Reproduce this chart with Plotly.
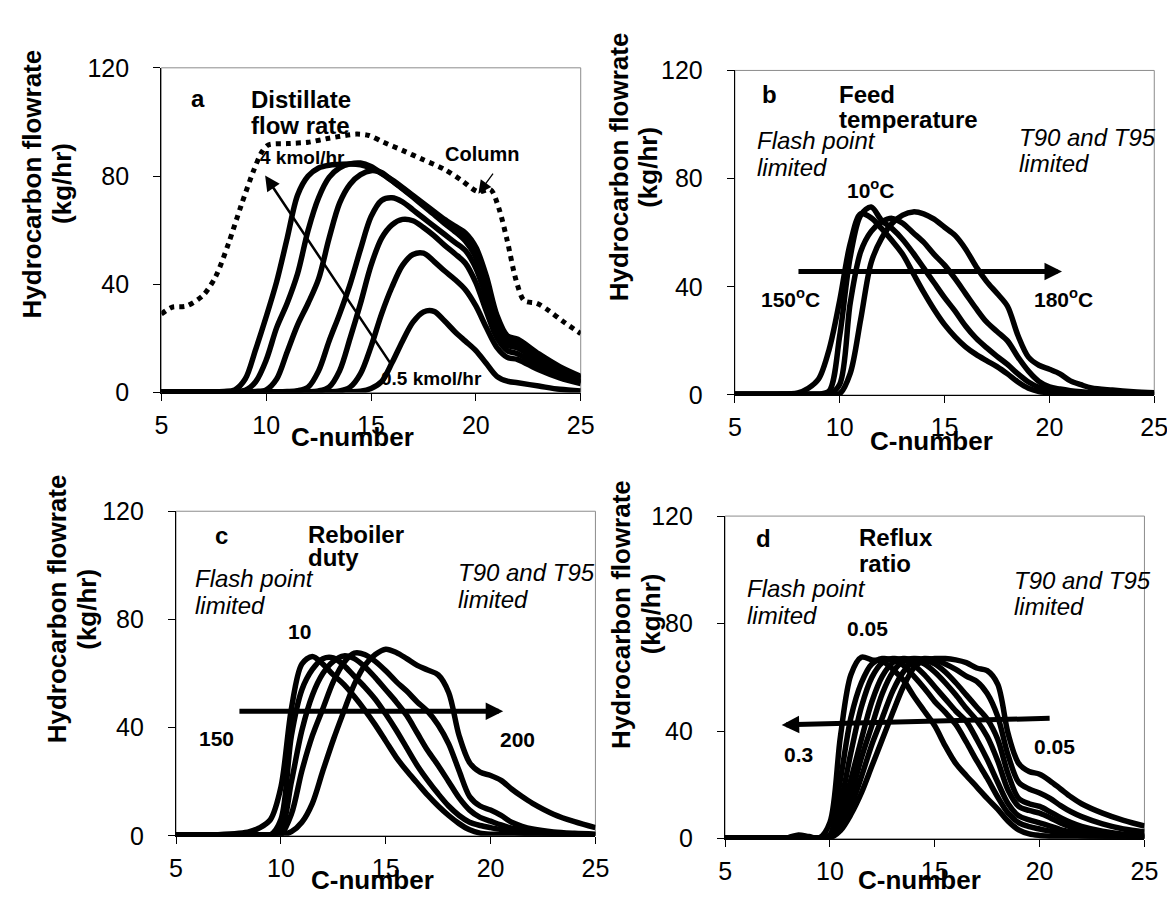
import plotly.graph_objects as go

W, H = 1175, 897

# ---------------- data ----------------
C = [5, 6, 7, 8, 8.5, 9, 9.5, 10, 10.5, 11, 11.5, 12, 12.5, 13, 13.5, 14, 14.5, 15, 15.5, 16,
     16.5, 17, 17.5, 18, 18.5, 19, 19.5, 20, 20.5, 21, 21.5, 22, 23, 24, 25]
X_TICKS = [5, 10, 15, 20, 25]
Y_TICKS = [0, 40, 80, 120]

# (a) distillate flow rate 4 ... 0.5 kmol/hr
a_4 = [0.3, 0.3, 0.3, 0.4, 1.0, 5, 16, 28, 41, 57, 73, 80, 83, 84, 84.3, 84.5, 84.2, 83, 81, 78.6,
       75.8, 72.8, 69.9, 66.9, 64, 61.5, 59, 53.7, 43, 28.7, 21, 19.7, 14.3, 9.6, 6]
a_3 = [0.3, 0.3, 0.3, 0.3, 0.4, 0.8, 4, 12, 24, 33, 44, 60, 72, 79.5, 83, 84.5, 84.8, 83.5, 81, 78.3,
       75.5, 72.5, 69.5, 66.5, 63.5, 61, 58, 52, 41.5, 27.5, 20, 18.6, 13.5, 8.9, 5.5]
a_25 = [0.3, 0.3, 0.3, 0.3, 0.3, 0.3, 0.4, 1, 5, 15, 25, 33, 42, 57, 70, 77, 80.5, 82, 81.3, 78.3,
        75.3, 72.2, 69, 65.8, 62.5, 59.5, 56, 50, 40, 26.5, 19, 17.6, 12.8, 8.3, 5]
a_2 = [0.3, 0.3, 0.3, 0.3, 0.3, 0.3, 0.3, 0.3, 0.3, 0.4, 0.7, 2, 8, 19, 29, 40, 53, 65, 71, 72,
       70.5, 67.5, 64.5, 61.5, 58.5, 55.5, 52.5, 46, 35, 23, 17.5, 16.5, 11.5, 7, 4]
a_15 = [0.3, 0.3, 0.3, 0.3, 0.3, 0.3, 0.3, 0.3, 0.3, 0.3, 0.3, 0.3, 0.6, 2, 8, 20, 33, 47, 57, 62,
        64, 63.5, 61, 58, 54.5, 51.3, 47.8, 40.6, 30, 20.3, 15.5, 14.3, 10, 6.6, 4.2]
a_1 = [0.3, 0.3, 0.3, 0.3, 0.3, 0.3, 0.3, 0.3, 0.3, 0.3, 0.3, 0.3, 0.3, 0.3, 0.6, 2, 7, 17, 29, 39,
       47, 51, 51.5, 48.5, 45, 41.8, 38, 32, 24, 16.7, 13, 12.2, 8.4, 5.4, 3.3]
a_05 = [0.3, 0.3, 0.3, 0.3, 0.3, 0.3, 0.3, 0.3, 0.3, 0.3, 0.3, 0.3, 0.3, 0.3, 0.3, 0.3, 0.5, 1.5, 4, 11,
        19, 26, 29.8, 30, 26.5, 22.5, 19, 15.5, 10.7, 6, 4.2, 3.6, 2.4, 1.2, 0.6]
col_C = [5.0, 5.5, 6.2, 7.0, 7.6, 8.2, 8.8, 9.4, 9.8, 10.1, 11, 12, 13, 14.3, 14.9, 15.6, 16.5, 17.5,
         18.5, 19.3, 20.1, 20.7, 21.1, 21.5, 21.9, 22.3, 22.9, 23.4, 24.1, 25]
col_v = [29, 31.5, 32, 36, 43, 55, 69, 82, 89, 91.5, 92, 92.5, 94, 95.5, 95, 92.5, 89.5, 86,
         82.5, 78.5, 74.2, 75, 68, 56, 42, 34, 33, 30.7, 26.6, 21.8]

# (b) feed temperature 150 ... 180 C
b_150 = [0.3, 0.3, 0.3, 0.8, 2.5, 6, 17, 35, 56, 67, 65.5, 61.5, 57, 52, 45, 38, 31.6, 26, 21.5, 17.8,
         15, 12.7, 10.5, 7.8, 4.8, 2.5, 1.3, 0.8, 0.6, 0.5, 0.4, 0.4, 0.3, 0.3, 0.2]
b_160 = [0.3, 0.3, 0.3, 0.3, 0.3, 0.3, 1.5, 22, 51, 66.5, 69.5, 64.5, 61.5, 57.5, 52.5, 47, 41.5, 36, 31, 25.5,
         21, 17.5, 14.3, 11.3, 7.8, 4.8, 2.8, 1.8, 1.3, 1, 0.8, 0.6, 0.4, 0.3, 0.2]
b_170 = [0.3, 0.3, 0.3, 0.3, 0.3, 0.3, 0.3, 4, 34, 53, 60.5, 64, 65.3, 63.5, 60, 56.5, 52, 48, 43, 37.5,
         32, 27, 23.5, 20, 14, 8.8, 5, 3, 2.2, 1.6, 1.2, 0.9, 0.6, 0.4, 0.3]
b_180 = [0.3, 0.3, 0.3, 0.3, 0.3, 0.3, 0.3, 0.5, 8, 28, 49, 58, 63.5, 66.5, 67.7, 67, 65, 62, 59, 54,
         47.5, 42, 37.6, 32.8, 22, 14, 11, 9.5, 7.8, 5.2, 3.8, 2.6, 1.8, 1.2, 0.8]

# (c) reboiler duty 150 ... 200
c_150 = [0.3, 0.3, 0.4, 0.9, 1.5, 3, 6, 18, 47, 63.5, 66.3, 63.5, 59.5, 56, 51.5, 46.5, 41, 35, 29, 24,
         19.5, 15, 11, 7.5, 4.5, 2.2, 1, 0.6, 0.5, 0.4, 0.4, 0.3, 0.3, 0.3, 0.3]
c_160 = [0.3, 0.3, 0.3, 0.3, 0.3, 0.3, 0.3, 6, 37, 54, 61.5, 65.5, 65.8, 63, 59, 55, 50.5, 45, 39, 32.5,
         26, 20.5, 15.5, 11, 7.5, 5, 3.8, 3, 2.3, 1.5, 1, 0.8, 0.5, 0.4, 0.3]
c_170 = [0.3, 0.3, 0.3, 0.3, 0.3, 0.3, 0.3, 2, 20, 39, 52, 60, 64.5, 66.5, 65.5, 62.5, 58.5, 54, 49.5, 44.5,
         38, 31.5, 26, 20, 14, 9.5, 6.8, 5.4, 4, 2.8, 2, 1.5, 0.9, 0.6, 0.4]
c_180 = [0.3, 0.3, 0.3, 0.3, 0.3, 0.3, 0.3, 0.5, 8, 24, 37, 47, 57, 64, 67.5, 67, 64.5, 61, 57, 53.5,
         49.5, 46, 41, 34, 24, 14.5, 11, 9.5, 7.5, 5, 3.5, 2.5, 1.4, 0.9, 0.6]
c_200 = [0.3, 0.3, 0.3, 0.3, 0.3, 0.3, 0.3, 0.3, 1.5, 5, 12, 24, 35.5, 46, 56, 63, 67, 69, 67.8, 65.5,
         63, 61.3, 59.5, 53, 37, 27, 23.5, 22.3, 20.5, 17.3, 14.5, 12, 8, 5.2, 3]

# (d) reflux ratio 0.3 ... 0.05
d_1 = [0.3, 0.3, 0.3, 0.4, 1.4, 0.8, 0.3, 6, 38, 61, 67.5, 66.5, 66, 63, 59, 53, 47.5, 42, 34.5, 28,
       23.5, 19.3, 15, 11, 6.5, 3.3, 1.8, 1.2, 0.9, 0.7, 0.5, 0.4, 0.3, 0.3, 0.3]
d_2 = [0.3, 0.3, 0.3, 0.3, 0.3, 0.3, 0.3, 1.5, 22, 45, 58, 65, 67, 66.5, 64.5, 60.5, 56, 51, 47, 42.5,
       36, 29, 22.5, 15.5, 9.5, 6, 4.5, 3.6, 2.8, 2, 1.5, 1.1, 0.7, 0.5, 0.4]
d_3 = [0.3, 0.3, 0.3, 0.3, 0.3, 0.3, 0.3, 1, 13, 32, 49, 60, 65.5, 67, 66.5, 64.5, 61, 56.5, 52, 47.5,
       43.7, 37, 29.5, 21, 13, 8.5, 7, 5.9, 4.7, 3.4, 2.5, 1.8, 1, 0.6, 0.5]
d_4 = [0.3, 0.3, 0.3, 0.3, 0.3, 0.3, 0.3, 0.6, 8, 22, 37, 51, 60.5, 65.5, 67, 66.5, 65, 62, 58, 53.5,
       48.5, 44, 38, 29, 18, 12, 10.5, 9.5, 7.8, 5.8, 4.3, 3.2, 1.8, 1.1, 0.7]
d_5 = [0.3, 0.3, 0.3, 0.3, 0.3, 0.3, 0.3, 0.4, 5, 16, 30, 42, 54, 62, 66, 67, 66.5, 65, 62, 58,
       53.5, 49, 44.5, 37, 24, 15, 13, 12, 10, 7.8, 6, 4.6, 2.8, 1.7, 1.1]
d_6 = [0.3, 0.3, 0.3, 0.3, 0.3, 0.3, 0.3, 0.3, 4, 12, 23, 35, 45, 55, 62, 66, 67, 66.5, 65, 63,
       60.5, 58.5, 54, 45.5, 31, 21, 18.5, 17, 15, 12.3, 10, 8.2, 5.5, 3.6, 2.5]
d_7 = [0.3, 0.3, 0.3, 0.3, 0.3, 0.3, 0.3, 0.3, 3, 9, 17, 27, 37, 47, 56.5, 63.5, 66.5, 67, 67, 66.5,
       65.5, 63.5, 62.5, 57.5, 39, 28, 25, 24, 21.5, 18.5, 15.5, 13, 9.5, 6.8, 4.7]

# ---------------- layout helpers ----------------
FONT = "Liberation Sans, Arial, sans-serif"
BLACK = "black"

def px(x):
    return x / W

def py(y):
    return 1 - y / H

# plot areas in pixels (left, right, top, bottom)
AREAS = {
    "": (149, 576, 47.3, 382.5),
    "2": (733, 1160, 50, 385),
    "3": (164, 591, 505, 840),
    "4": (723, 1150, 510, 843),
}

fig = go.Figure()

def add_curves(suffix, series):
    for ys in series:
        fig.add_trace(go.Scatter(
            x=C, y=ys, mode="lines", xaxis="x" + suffix, yaxis="y" + suffix,
            line=dict(color=BLACK, width=5.5, shape="spline", smoothing=0.9),
            showlegend=False, hoverinfo="skip"))

fig.add_trace(go.Scatter(
    x=col_C, y=col_v, mode="lines", xaxis="x", yaxis="y",
    line=dict(color=BLACK, width=5, dash="dot", shape="spline", smoothing=0.8),
    showlegend=False, hoverinfo="skip"))
add_curves("", [a_4, a_3, a_25, a_2, a_15, a_1, a_05])
add_curves("2", [b_150, b_160, b_170, b_180])
add_curves("3", [c_150, c_160, c_170, c_180, c_200])
add_curves("4", [d_1, d_2, d_3, d_4, d_5, d_6, d_7])

layout = dict(
    width=W, height=H, autosize=False,
    margin=dict(l=0, r=0, t=0, b=0),
    paper_bgcolor="white", plot_bgcolor="white",
    font=dict(family=FONT, color=BLACK),
)
shapes = []
for s, (l, r, t, b) in AREAS.items():
    common = dict(showgrid=False, zeroline=False, showline=True, linecolor=BLACK, linewidth=1.3,
                  ticks="outside", ticklen=7, tickwidth=1.3, tickcolor=BLACK,
                  tickfont=dict(family=FONT, size=25, color=BLACK))
    layout["xaxis" + s] = dict(common, range=[5, 25], tickvals=X_TICKS, domain=[px(l), px(r)],
                               anchor="y" + s, ticklabelstandoff=3)
    layout["yaxis" + s] = dict(common, range=[0, 120], tickvals=Y_TICKS, domain=[py(b), py(t)],
                               anchor="x" + s, ticklabelstandoff=19)
    shapes.append(dict(type="rect", xref="paper", yref="paper", x0=px(l), x1=px(r), y0=py(b), y1=py(t),
                       line=dict(color="#8c8c8c", width=1), layer="below"))
layout["shapes"] = shapes

ann = []

def text(t, x, baseline, size, anchor="left", bold=True, italic=False):
    s = t
    if bold:
        s = "<b>" + s + "</b>"
    if italic:
        s = "<i>" + s + "</i>"
    ann.append(dict(text=s, x=px(x), y=py(baseline - 0.35 * size), xref="paper", yref="paper",
                    xanchor=anchor, yanchor="middle", showarrow=False, borderpad=0,
                    font=dict(family=FONT, size=size, color=BLACK)))

def ytitle(xc1, xc2, yc):
    for t, xc in (("Hydrocarbon flowrate", xc1), ("(kg/hr)", xc2)):
        ann.append(dict(text="<b>" + t + "</b>", x=px(xc), y=py(yc), xref="paper", yref="paper",
                        xanchor="center", yanchor="middle", textangle=-90, showarrow=False,
                        borderpad=0, font=dict(family=FONT, size=26, color=BLACK)))

def xtitle(xc, baseline):
    text("C-number", xc, baseline, 26, anchor="center")

def arrow(s, x, y, ax, ay, width, size):
    ann.append(dict(text="", x=x, y=y, ax=ax, ay=ay, xref="x" + s, yref="y" + s,
                    axref="x" + s, ayref="y" + s, showarrow=True, arrowhead=2,
                    arrowsize=size, arrowwidth=width, arrowcolor=BLACK, standoff=0))

# axis titles
ytitle(17, 48, 167)
ytitle(615, 645, 150)
ytitle(43, 73, 606)
ytitle(617, 647, 611)
xtitle(344, 437)
xtitle(933, 442)
xtitle(364, 895)
xtitle(921, 895)

# panel a
text("a", 186, 87, 24, anchor="center")
text("Distillate", 239, 88, 24)
text("flow rate", 239, 115, 24)
text("4 kmol/hr", 293, 147, 19, anchor="center")
text("0.5 kmol/hr", 424, 375, 19, anchor="center")
text("Column", 475, 143, 20, anchor="center")
arrow("", 9.95, 80.2, 15.95, 10.5, 2.5, 1.2)
arrow("", 20.12, 73.5, 20.87, 81.5, 1.3, 2)

# panel b
text("b", 768, 83, 24, anchor="center")
text("Feed", 838, 83, 24)
text("temperature", 838, 109, 24)
text("Flash point", 754, 131, 24, bold=False, italic=True)
text("limited", 754, 159, 24, bold=False, italic=True)
text("T90 and T95", 1021, 128, 24, bold=False, italic=True)
text("limited", 1021, 154, 24, bold=False, italic=True)
text("10<sup>o</sup>C", 872, 180, 21, anchor="center")
text("150<sup>o</sup>C", 790, 292, 21, anchor="center")
text("180<sup>o</sup>C", 1068, 292, 21, anchor="center")
arrow("2", 20.6, 45.7, 7.96, 45.7, 5, 0.7)

# panel c
text("c", 210, 538, 24, anchor="center")
text("Reboiler", 297, 537, 24)
text("duty", 297, 561, 24)
text("Flash point", 182, 583, 24, bold=False, italic=True)
text("limited", 182, 611, 24, bold=False, italic=True)
text("T90 and T95", 450, 577, 24, bold=False, italic=True)
text("limited", 450, 604, 24, bold=False, italic=True)
text("10", 290, 637, 21, anchor="center")
text("150", 205, 747, 21, anchor="center")
text("200", 512, 748, 21, anchor="center")
arrow("3", 20.6, 46, 7.95, 46, 5, 0.7)

# panel d
text("d", 762, 542, 24, anchor="center")
text("Reflux", 858, 540, 24)
text("ratio", 858, 567, 24)
text("Flash point", 744, 593, 24, bold=False, italic=True)
text("limited", 744, 621, 24, bold=False, italic=True)
text("T90 and T95", 1016, 585, 24, bold=False, italic=True)
text("limited", 1016, 612, 24, bold=False, italic=True)
text("0.05", 868, 633, 21, anchor="center")
text("0.3", 798, 763, 21, anchor="center")
text("0.05", 1058, 755, 21, anchor="center")
arrow("4", 7.7, 42.3, 20.55, 44.8, 5, 0.7)

layout["annotations"] = ann
fig.update_layout(**layout)
fig.write_html("out.html")
